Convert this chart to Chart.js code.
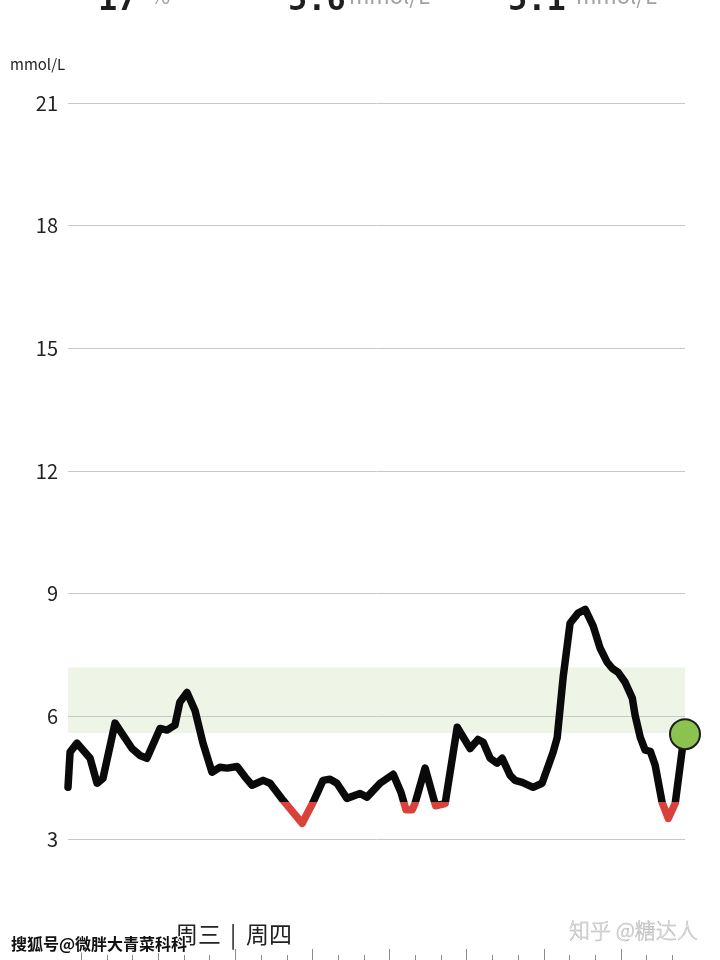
<!DOCTYPE html>
<html>
<head>
<meta charset="utf-8">
<script src="https://cdn.jsdelivr.net/npm/chart.js@4.4.1/dist/chart.umd.min.js"></script>
<style>
    body { margin: 0; width: 720px; height: 960px; overflow: hidden; background: #fff; position: relative; }
    #chart { position: absolute; left: 0; top: 0; }
    .t { position: absolute; line-height: 1; white-space: nowrap; font-family: "Noto Sans CJK SC", sans-serif; }
    .big { font-family: "DejaVu Sans Mono", monospace; font-weight: bold; font-size: 32px; color: #1e1e1e; top: -17px; }
    .unit { font-size: 22px; color: #a2a2a2; top: -17px; }
</style>
</head>
<body>
<canvas id="chart" width="720" height="1000"></canvas>

<div class="t big" style="left:98px">17</div>
<div class="t unit" style="left:150px">%</div>
<div class="t big" style="left:288px">5.6</div>
<div class="t unit" style="left:349px">mmol/L</div>
<div class="t big" style="left:508px">5.1</div>
<div class="t unit" style="left:576px">mmol/L</div>

<div class="t" style="left:10px; top:56px; font-size:15px; color:#222">mmol/L</div>

<div class="t" style="left:175px; top:922px; font-size:23px; color:#222">周三</div>
<div class="t" style="left:230px; top:922px; font-size:23px; color:#222">|</div>
<div class="t" style="left:246px; top:922px; font-size:23px; color:#222">周四</div>

<div class="t" style="left:11px; top:935px; font-size:16px; font-weight:bold; color:#111; text-shadow: 1px 0 #fff, -1px 0 #fff, 0 1px #fff, 0 -1px #fff, 1px 1px #fff, -1px -1px #fff">搜狐号@微胖大青菜科科</div>
<div class="t" style="left:569px; top:919px; font-size:21px; font-weight:300; color:#eeeeee; -webkit-text-stroke: 0.5px #b4b4b4">知乎 @糖达人</div>

<script>
// glucose readings, x in hours from Wed 00:00 (24 = Thu 00:00)
const hours = [17.50, 17.58, 17.85, 18.36, 18.63, 18.86, 19.33, 19.99, 20.30, 20.57,
    21.08, 21.35, 21.66, 21.85, 22.13, 22.44, 22.75, 23.10, 23.41, 23.69,
    24.08, 24.39, 24.66, 25.09, 25.36, 25.87, 26.61, 27.03, 27.42, 27.69,
    27.96, 28.35, 28.86, 29.13, 29.64, 30.15, 30.45, 30.65, 30.89, 31.00,
    31.39, 31.80, 32.17, 32.64, 33.14, 33.45, 33.65, 33.92, 34.19, 34.39,
    34.70, 34.89, 35.17, 35.59, 35.94, 36.37, 36.53, 36.76, 37.03, 37.34,
    37.62, 37.93, 38.20, 38.47, 38.67, 38.90, 39.17, 39.45, 39.56, 39.76,
    39.95, 40.15, 40.34, 40.61, 40.85, 41.12, 41.39, 41.50];
const glucose = [4.27, 5.13, 5.35, 4.98, 4.37, 4.49, 5.84, 5.22, 5.05, 4.98,
    5.71, 5.67, 5.79, 6.35, 6.59, 6.15, 5.35, 4.64, 4.76, 4.74,
    4.78, 4.52, 4.32, 4.44, 4.37, 3.95, 3.39, 3.90, 4.44, 4.47,
    4.37, 4.00, 4.12, 4.03, 4.37, 4.59, 4.15, 3.72, 3.72, 3.88,
    4.74, 3.82, 3.87, 5.74, 5.22, 5.44, 5.37, 4.98, 4.86, 4.98,
    4.56, 4.44, 4.39, 4.27, 4.37, 5.13, 5.49, 6.96, 8.28, 8.53,
    8.62, 8.21, 7.67, 7.33, 7.18, 7.08, 6.84, 6.45, 6.03, 5.49,
    5.18, 5.15, 4.81, 3.90, 3.51, 3.88, 5.18, 5.57];
const yTicks = [3, 6, 9, 12, 15, 18, 21];
const targetLow = 5.6;
const targetHigh = 7.2;
const lowLimit = 3.9;
const xStart = 17.5;
const xEnd = 41.5;

const points = hours.map((h, i) => ({ x: h, y: glucose[i] }));

// green target band, drawn before the grid
const bandPlugin = {
    id: 'targetBand',
    beforeDraw(chart) {
        const { ctx, chartArea, scales: { y } } = chart;
        const top = y.getPixelForValue(targetHigh);
        const bottom = y.getPixelForValue(targetLow);
        ctx.save();
        ctx.fillStyle = '#eef5e6';
        ctx.fillRect(chartArea.left, top, chartArea.right - chartArea.left, bottom - top);
        ctx.restore();
    }
};

// hour ticks along the bottom, longer every 3 hours
const hourTicks = {
    id: 'hourTicks',
    afterDraw(chart) {
        const { ctx, scales: { x, y } } = chart;
        const base = y.getPixelForValue(0);
        ctx.save();
        ctx.strokeStyle = '#8a8a8a';
        ctx.lineWidth = 1;
        for (let h = Math.ceil(xStart); h <= xEnd; h++) {
            const px = Math.round(x.getPixelForValue(h)) + 0.5;
            const len = h % 3 === 0 ? 13 : 7;
            ctx.beginPath();
            ctx.moveTo(px, base - len);
            ctx.lineTo(px, base);
            ctx.stroke();
        }
        ctx.restore();
    }
};

function lineColor(context) {
    const { chart } = context;
    const { chartArea, scales } = chart;
    if (!chartArea || !scales.y) return '#0a0a0a';
    const cut = scales.y.getPixelForValue(lowLimit);
    const stop = Math.min(1, Math.max(0, (cut - chartArea.top) / (chartArea.bottom - chartArea.top)));
    const g = chart.ctx.createLinearGradient(0, chartArea.top, 0, chartArea.bottom);
    g.addColorStop(0, '#0a0a0a');
    g.addColorStop(stop, '#0a0a0a');
    g.addColorStop(stop, '#d9413b');
    g.addColorStop(1, '#d9413b');
    return g;
}

new Chart(document.getElementById('chart'), {
    type: 'line',
    data: {
        datasets: [{
            data: points,
            borderColor: lineColor,
            borderWidth: 7.5,
            borderJoinStyle: 'round',
            borderCapStyle: 'round',
            tension: 0,
            fill: false,
            clip: false,
            pointRadius: (ctx) => ctx.dataIndex === points.length - 1 ? 15 : 0,
            pointBackgroundColor: '#8cc24f',
            pointBorderColor: '#1d1d1d',
            pointBorderWidth: 2,
            pointHoverRadius: 0
        }]
    },
    options: {
        responsive: false,
        animation: false,
        events: [],
        layout: { padding: { top: 103, right: 35, bottom: 38, left: 0 } },
        plugins: { legend: { display: false }, tooltip: { enabled: false } },
        scales: {
            x: { type: 'linear', min: xStart, max: xEnd, display: false },
            y: {
                min: 0,
                max: 21,
                position: 'left',
                afterFit: (s) => { s.width = 68; },
                afterBuildTicks: (s) => { s.ticks = yTicks.map(v => ({ value: v })); },
                grid: { color: '#c8c8c8', lineWidth: 1, drawTicks: false },
                border: { display: false },
                ticks: {
                    color: '#222',
                    padding: 10,
                    font: { family: '"Noto Sans CJK SC"', size: 20 }
                }
            }
        }
    },
    plugins: [bandPlugin, hourTicks]
});
</script>
</body>
</html>
